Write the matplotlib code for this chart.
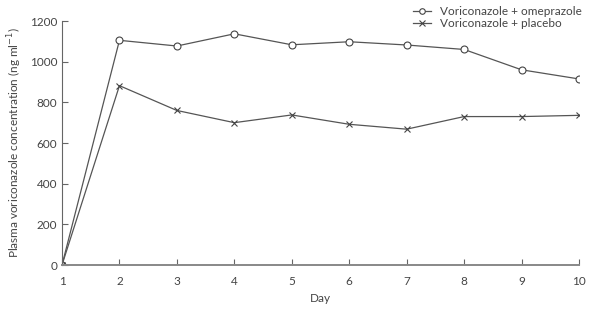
import matplotlib
matplotlib.use("Agg")
import matplotlib.pyplot as plt

days = [1, 2, 3, 4, 5, 6, 7, 8, 9, 10]
omeprazole = [0, 1105, 1077, 1137, 1083, 1098, 1082, 1060, 960, 915]
placebo = [0, 882, 760, 700, 738, 692, 668, 730, 730, 736]

plt.rcParams['font.family'] = ['Lato', 'DejaVu Sans']
grey = '#444444'

fig = plt.figure(figsize=(5.92, 3.15), dpi=100)
ax = fig.add_axes([62/592, 50/315, 517/592, 244/315])

ax.plot(days, omeprazole, color='#555555', lw=0.9, marker='o', ms=5,
        mfc='white', mec='#444444', mew=0.8, label='Voriconazole + omeprazole')
ax.plot(days, placebo, color='#555555', lw=0.9, marker='x', ms=5,
        mec='#444444', mew=0.8, label='Voriconazole + placebo')

ax.set_xlim(1, 10)
ax.set_ylim(0, 1200)
ax.set_xticks(days)
ax.set_yticks(range(0, 1201, 200))
for s in ['top', 'right']:
    ax.spines[s].set_visible(False)
ax.spines['left'].set_color('#666666')
ax.spines['bottom'].set_color('#888888')
ax.spines['bottom'].set_linewidth(1.4)
ax.spines['left'].set_linewidth(0.8)
ax.spines['left'].set_bounds(0, 1200)
ax.tick_params(direction='in', length=4, width=0.8, colors='#666666',
               labelcolor=grey, labelsize=8.5)
ax.tick_params(axis='x', pad=8)
ax.set_xlabel('Day', color=grey, fontsize=8.5, labelpad=4)
ax.set_ylabel('Plasma voriconazole concentration (ng ml$^{-1}$)', color=grey,
              fontsize=8.5, labelpad=4)

leg = ax.legend(loc='upper right', bbox_to_anchor=(1.015, 1.08), frameon=False,
                fontsize=8.5, handlelength=1.5, handletextpad=0.8, labelspacing=0.05,
                borderaxespad=0, markerscale=0.8)
for t in leg.get_texts():
    t.set_color(grey)

fig.savefig('out.png', dpi=100)
